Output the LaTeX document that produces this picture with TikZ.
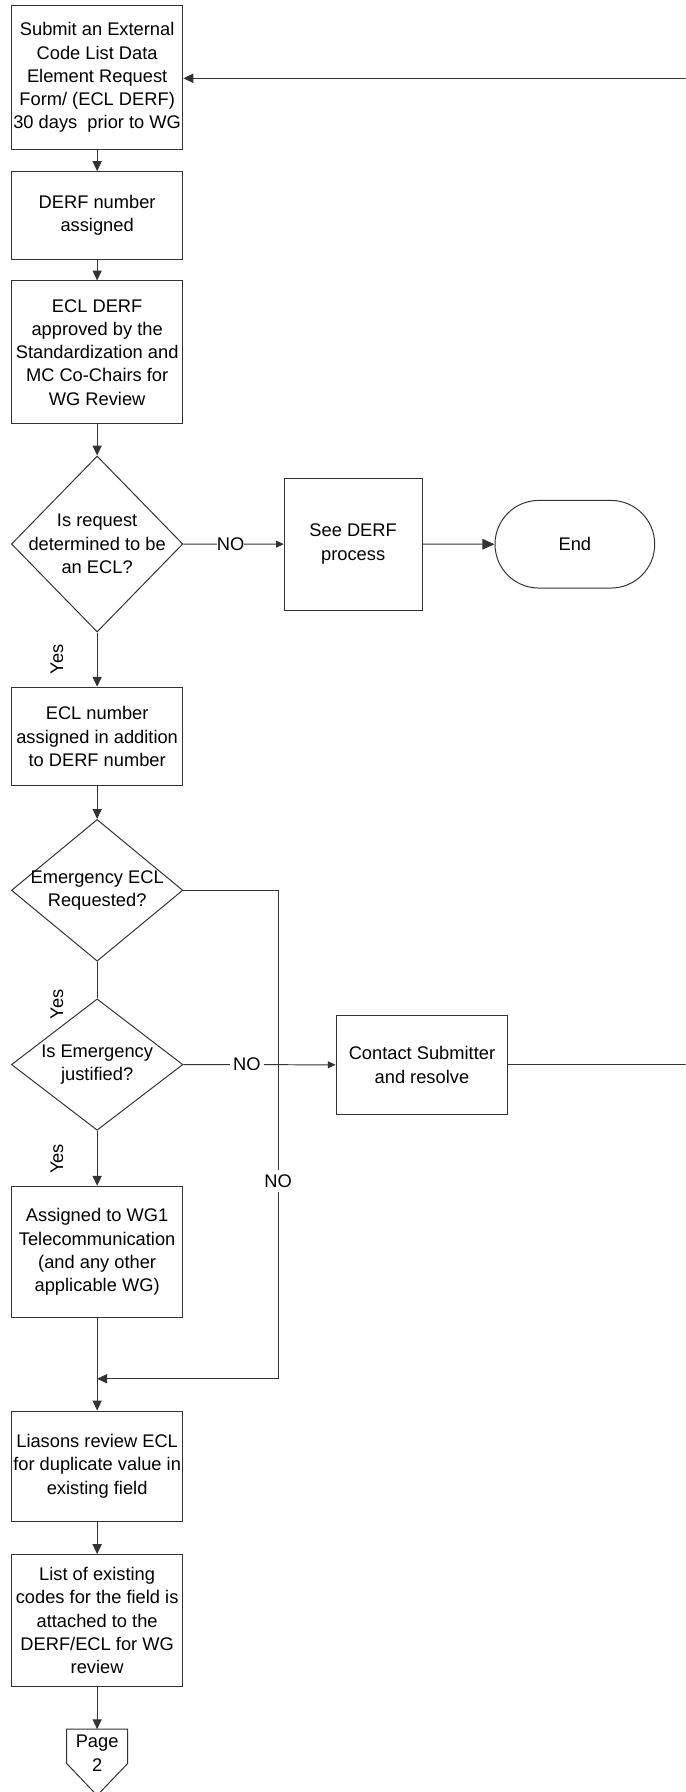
\documentclass[tikz,border=0pt]{standalone}
\usepackage{fontspec}
\setmainfont{Liberation Sans}
\usetikzlibrary{arrows.meta,shapes.geometric}
\tikzset{
  ln/.style={draw=black!80, line width=0.65pt},
  box/.style={ln, rectangle, inner sep=0pt, minimum width=112.5pt, align=center,
    font=\fontsize{12}{15.3}\selectfont},
  dia/.style={ln, diamond, inner sep=0pt, minimum width=112.5pt},
  txt/.style={align=center, inner sep=0pt, font=\fontsize{12}{15.3}\selectfont},
  lbl/.style={inner sep=0pt, font=\fontsize{12}{14}\selectfont},
  arr/.style={ln, -{Triangle[length=6.5pt,width=6pt]}},
  arrs/.style={ln, -{Triangle[length=5pt,width=4.5pt]}},
  arrl/.style={ln, -{Triangle[length=8pt,width=7pt]}},
}
\begin{document}
\begin{tikzpicture}[x=0.75pt, y=-0.75pt]
\useasboundingbox (0,0) rectangle (600,1568);
\clip (0,0) rectangle (600,1568);
\fill[white] (0,0) rectangle (600,1568);

% boxes
\node[box, minimum height=94pt] (b1) at (85,67.9)
  {Submit an External\\Code List Data\\Element Request\\Form/ (ECL DERF)\\30 days\ \ prior to WG};
\node[box, minimum height=57.5pt] (b2) at (85,188.5) {DERF number\\assigned};
\node[box, minimum height=93.75pt] (b3) at (85,308.3)
  {ECL DERF\\approved by the\\Standardization and\\MC Co-Chairs for\\WG Review};
\node[dia, minimum height=115.5pt] (d1) at (85,476) {};
\node[txt] (d1t) at (d1) {Is request\\determined to be\\an ECL?};
\node[box, minimum width=90.4pt, minimum height=86.5pt] (see) at (309,476.1) {See DERF\\process};
\node[box, minimum width=104.8pt, minimum height=57.5pt, rounded corners=28.7pt] (end) at (503,476.2) {End};
\node[box, minimum height=64.7pt] (b4) at (85,644.4) {ECL number\\assigned in addition\\to DERF number};
\node[dia, minimum height=93pt] (d2) at (85,779) {};
\node[txt] (d2t) at (d2) {Emergency ECL\\Requested?};
\node[dia, minimum height=86.25pt] (d3) at (85,931.5) {};
\node[txt] (d3t) at (d3) {Is Emergency\\justified?};
\node[box, minimum width=112.7pt, minimum height=65.2pt] (contact) at (369.2,931.7) {Contact Submitter\\and resolve};
\node[box, minimum height=86.3pt] (b5) at (85,1095.5)
  {Assigned to WG1\\Telecommunication\\(and any other\\applicable WG)};
\node[box, minimum height=72.2pt] (b6) at (85,1282.8)
  {Liasons review ECL\\for duplicate value in\\existing field};
\node[box, minimum height=86.6pt] (b7) at (85,1418)
  {List of existing\\codes for the field is\\attached to the\\DERF/ECL for WG\\review};

% off-page connector
\draw[ln] (58.3,1513) -- (111.7,1513) -- (111.7,1543) -- (85,1571) -- (58.3,1543) -- cycle;
\coordinate (pg) at (85,1513);
\node[txt] (pgt) at (85,1534) {Page\\2};

% coordinates for bends
\coordinate (fbA) at (606,931.7);
\coordinate (fbB) at (606,68.5);
\coordinate (lp) at (243.4,1206.4);

% connectors
\draw[arr] (b1.south) -- (b2.north);
\draw[arr] (b2.south) -- (b3.north);
\draw[arr] (b3.south) -- (d1.north);
\draw[arrs] (d1.east) -- (see.west);
\node[lbl, fill=white] (no1) at (201.7,476) {NO};
\draw[arrl] (see.east) -- (end.west);
\draw[arr] (d1.south) -- (b4.north);
\node[lbl, rotate=90] (y1) at (49.8,577) {Yes};
\draw[arr] (b4.south) -- (d2.north);
\draw[ln] (d2.south) -- (d3.north);
\node[lbl, rotate=90] (y2) at (49.8,879) {Yes};
\draw[arr] (d3.south) -- (b5.north);
\node[lbl, rotate=90] (y3) at (49.8,1014) {Yes};
\draw[arr] (b5.south) -- (b6.north);
\draw[arr] (d2.east) -| (lp) -- (lp -| b6.north);
\node[lbl, fill=white, inner ysep=3pt] (no3) at (243.4,1033.5) {NO};
\draw[arrs] (d3.east) -- (contact.west);
\node[lbl, fill=white, inner xsep=2pt] (no2) at (216,931.5) {NO};
\draw[arr] (contact.east) -- (fbA) -- (fbB) -- (fbB -| b1.east);
\draw[arr] (b6.south) -- (b7.north);
\draw[arr] (b7.south) -- (pg);
\end{tikzpicture}
\end{document}
